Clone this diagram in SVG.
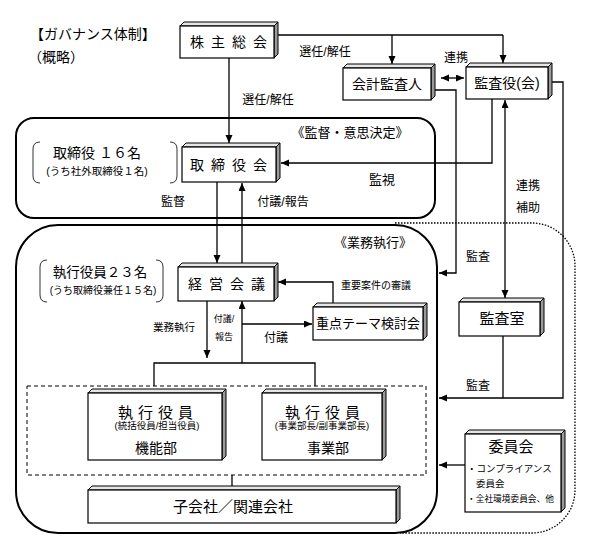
<svg xmlns="http://www.w3.org/2000/svg" width="596" height="542" viewBox="0 0 596 542">
<defs>
<marker id="ah" markerUnits="userSpaceOnUse" markerWidth="9" markerHeight="8" refX="8" refY="3.5" orient="auto-start-reverse"><path d="M0,0 L8,3.5 L0,7 z" fill="#000"/></marker>
</defs>
<style>
text{font-family:"Liberation Sans","Noto Sans CJK JP",sans-serif;fill:#000}
.c{text-anchor:middle}
.f{fill:#fff;stroke:#000;stroke-width:1.2}
.top{fill:#e6e6e6;stroke:#000;stroke-width:1}
.side{fill:#9a9a9a;stroke:#000;stroke-width:1}
.ln{fill:none;stroke:#000;stroke-width:1.3}
.ar{fill:none;stroke:#000;stroke-width:1.3;marker-end:url(#ah)}
.da{fill:none;stroke:#000;stroke-width:1.3;marker-start:url(#ah);marker-end:url(#ah)}
.grp{fill:none;stroke:#000;stroke-width:2}
.br{fill:none;stroke:#333;stroke-width:1}
</style>
<rect width="596" height="542" fill="#fff"/>

<text x="30" y="39" font-size="14">【ガバナンス体制】</text>
<text x="28" y="62" font-size="14">（概略）</text>

<!-- group frames -->
<path d="M395,223 H532 A43,43 0 0 1 575,266 V490 A43,43 0 0 1 532,533 H400" fill="none" stroke="#000" stroke-width="1.3" stroke-dasharray="1.5,1.5"/>
<g id="kantoku">
<rect x="16" y="118" width="419" height="100" rx="18" class="grp" fill="#fff"/>
<text x="350" y="137" font-size="13" class="c">《監督・意思決定》</text>
</g>
<g id="gyomu">
<rect x="16" y="225" width="421" height="308" rx="42" class="grp" fill="#fff"/>
<text x="373" y="247" font-size="13" class="c">《業務執行》</text>
</g>
<rect x="27" y="386" width="399" height="89" fill="none" stroke="#000" stroke-width="1" stroke-dasharray="4,3"/>

<!-- connectors -->
<g id="connectors">
<path class="ln" d="M278,35 H503"/>
<path class="ar" d="M392,35 V64"/>
<path class="ar" d="M503,35 V63"/>
<path class="ar" d="M229,58 V143"/>
<path class="da" d="M441,78 H464"/>
<path class="ar" d="M435,90 H456 V273 H439"/>
<path class="ar" d="M492,99 V163 H281"/>
<path class="da" d="M505,100 V298"/>
<path class="ar" d="M552,82 H563 V398 H439"/>
<path class="ln" d="M503,336 V398"/>
<path class="ar" d="M217,182 V263"/>
<path class="ar" d="M242,263 V183"/>
<path class="ar" d="M333,307 V282 H278"/>
<path class="ar" d="M242,363 V301"/>
<path class="ar" d="M242,324 H312"/>
<path class="ar" d="M207,301 V358"/>
<path class="ln" d="M154,386 V363 H315 V386"/>
<path class="ln" d="M232,475 V490"/>
<path class="ar" d="M465,465 H439"/>
</g>

<!-- connector labels -->
<text x="325" y="56" font-size="12" class="c">選任/解任</text>
<text x="456" y="62" font-size="12" class="c">連携</text>
<text x="268" y="104" font-size="12" class="c">選任/解任</text>
<text x="382" y="184" font-size="13" class="c">監視</text>
<text x="528" y="190" font-size="12" class="c">連携</text>
<text x="528" y="212" font-size="12" class="c">補助</text>
<text x="173" y="206" font-size="12" class="c">監督</text>
<text x="283" y="206" font-size="12" class="c">付議/報告</text>
<text x="478" y="261" font-size="12" class="c">監査</text>
<text x="376" y="289" font-size="10" class="c">重要案件の審議</text>
<text x="174" y="331" font-size="10.5" class="c">業務執行</text>
<text x="224" y="322" font-size="9" class="c">付議/</text>
<text x="224" y="340" font-size="9" class="c">報告</text>
<text x="276" y="342" font-size="12" class="c">付議</text>
<text x="478" y="390" font-size="12" class="c">監査</text>

<!-- brackets -->
<g id="torishimari-count">
<path class="br" d="M40,142 Q33,142 33,149 V176 Q33,183 40,183"/>
<path class="br" d="M170,142 Q177,142 177,149 V176 Q177,183 170,183"/>
<text x="97" y="158" font-size="14" class="c">取締役 １６名</text>
<text x="97" y="175" font-size="10.5" class="c">(うち社外取締役１名)</text>
</g>
<g id="shikko-count">
<path class="br" d="M47,260 Q40,260 40,267 V295 Q40,302 47,302"/>
<path class="br" d="M156,260 Q163,260 163,267 V295 Q163,302 156,302"/>
<text x="100" y="277" font-size="13.5" class="c">執行役員２３名</text>
<text x="103" y="294" font-size="10" class="c">(うち取締役兼任１５名)</text>
</g>

<!-- nodes -->
<g id="kabunushi">
<path class="top" d="M180,26 L184,22 H278 L274,26 Z"/><path class="side" d="M274,26 L278,22 V54 L274,58 Z"/>
<rect class="f" x="180" y="26" width="94" height="32"/>
<text x="232" y="47" font-size="14" class="c" letter-spacing="7">株主総会</text>
</g>
<g id="kaikei">
<path class="top" d="M343,68 L347,64 H435 L431,68 Z"/><path class="side" d="M431,68 L435,64 V96 L431,100 Z"/>
<rect class="f" x="343" y="68" width="88" height="32"/>
<text x="387" y="89" font-size="14" class="c">会計監査人</text>
</g>
<g id="kansayaku">
<path class="top" d="M466,67 L470,63 H552 L548,67 Z"/><path class="side" d="M548,67 L552,63 V95 L548,99 Z"/>
<rect class="f" x="466" y="67" width="82" height="32"/>
<text x="507" y="88" font-size="14" class="c">監査役(会)</text>
</g>
<g id="torishimariyakukai">
<path class="top" d="M182,147 L186,143 H280 L276,147 Z"/><path class="side" d="M276,147 L280,143 V178 L276,182 Z"/>
<rect class="f" x="182" y="147" width="94" height="35"/>
<text x="232" y="170" font-size="14" class="c" letter-spacing="7">取締役会</text>
</g>
<g id="keiei">
<path class="top" d="M178,267 L182,263 H278 L274,267 Z"/><path class="side" d="M274,267 L278,263 V297 L274,301 Z"/>
<rect class="f" x="178" y="267" width="96" height="34"/>
<text x="230" y="289" font-size="14" class="c" letter-spacing="7">経営会議</text>
</g>
<g id="juten">
<path class="top" d="M313,307 L317,303 H427 L423,307 Z"/><path class="side" d="M423,307 L427,303 V336 L423,340 Z"/>
<rect class="f" x="313" y="307" width="110" height="33"/>
<text x="368" y="328" font-size="13" class="c">重点テーマ検討会</text>
</g>
<g id="kansashitsu">
<path class="top" d="M459,302 L463,298 H544 L540,302 Z"/><path class="side" d="M540,302 L544,298 V332 L540,336 Z"/>
<rect class="f" x="459" y="302" width="81" height="34"/>
<text x="502" y="324" font-size="15" class="c">監査室</text>
</g>
<g id="kinobu">
<path class="top" d="M88,393 L92,389 H226 L222,393 Z"/><path class="side" d="M222,393 L226,389 V456 L222,460 Z"/>
<rect class="f" x="88" y="393" width="134" height="67"/>
<text x="158" y="418" font-size="15" class="c" letter-spacing="5">執行役員</text>
<text x="157" y="429" font-size="9.5" class="c">(統括役員/担当役員)</text>
<text x="156" y="453" font-size="14" class="c">機能部</text>
</g>
<g id="jigyobu">
<path class="top" d="M262,393 L266,389 H386 L382,393 Z"/><path class="side" d="M382,393 L386,389 V456 L382,460 Z"/>
<rect class="f" x="262" y="393" width="120" height="67"/>
<text x="325" y="418" font-size="15" class="c" letter-spacing="5">執行役員</text>
<text x="322" y="429" font-size="9.5" class="c">(事業部長/副事業部長)</text>
<text x="328" y="453" font-size="14" class="c">事業部</text>
</g>
<g id="kogaisha">
<path class="top" d="M88,490 L92,486 H400 L396,490 Z"/><path class="side" d="M396,490 L400,486 V519 L396,523 Z"/>
<rect class="f" x="88" y="490" width="308" height="33"/>
<text x="233" y="512" font-size="15" class="c">子会社／関連会社</text>
</g>
<g id="iinkai">
<path class="top" d="M465,434 L469,430 H565 L561,434 Z"/><path class="side" d="M561,434 L565,430 V508 L561,512 Z"/>
<rect class="f" x="465" y="434" width="96" height="78"/>
<text x="511" y="452" font-size="15" class="c">委員会</text>
<text x="467" y="472" font-size="9.5">・コンプライアンス</text>
<text x="476" y="487" font-size="9.5">委員会</text>
<text x="467" y="502" font-size="8.7">・全社環境委員会、他</text>
</g>
</svg>
